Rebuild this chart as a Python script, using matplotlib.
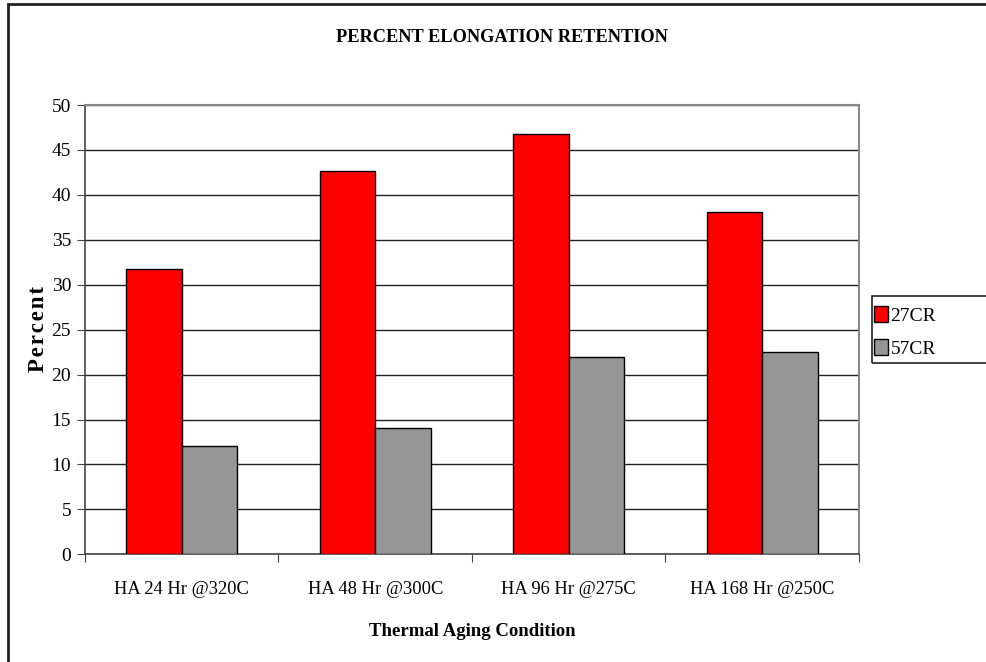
import matplotlib
matplotlib.use("Agg")
import matplotlib.pyplot as plt
from matplotlib.patches import Rectangle, Patch
import numpy as np

plt.rcParams['font.family'] = ['Liberation Serif', 'DejaVu Serif']

categories = ["HA 24 Hr @320C", "HA 48 Hr @300C", "HA 96 Hr @275C", "HA 168 Hr @250C"]
cr27 = [31.7, 42.7, 46.8, 38.1]
cr57 = [12.1, 14.1, 22.0, 22.5]
series_names = ["27CR", "57CR"]
yticks = [0, 5, 10, 15, 20, 25, 30, 35, 40, 45, 50]

W, H = 987, 662
fig = plt.figure(figsize=(W / 100, H / 100), dpi=100)

# outer chart border (continues past the right and bottom edges)
fig.patches.append(Rectangle((8.5 / W, -0.1), 1.2, (H - 4) / H + 0.1,
                             transform=fig.transFigure, fill=False,
                             edgecolor="#222222", linewidth=2))

left, right, top, bottom = 85, 859, 105, 554.3
ax = fig.add_axes([left / W, (H - bottom) / H, (right - left) / W, (bottom - top) / H])

x = np.arange(len(categories))
bw = 1 / 3.5
ax.bar(x - bw / 2, cr27, width=bw, color="#ff0000", edgecolor="black", linewidth=1, zorder=3)
ax.bar(x + bw / 2, cr57, width=bw, color="#969696", edgecolor="black", linewidth=1, zorder=3)

ax.set_xlim(-0.5, len(categories) - 0.5)
ax.set_ylim(0, 50)
ax.set_yticks(yticks)
ax.set_yticklabels([str(v) for v in yticks], fontsize=14)
ax.yaxis.grid(True, color="#222222", linewidth=1, zorder=0)
ax.set_axisbelow(True)

ax.set_xticks(np.arange(len(categories) + 1) - 0.5)
ax.set_xticklabels([])
ax.set_xticks(x, minor=True)
ax.set_xticklabels(categories, minor=True, fontsize=13.3)
ax.tick_params(axis="x", which="minor", length=0, pad=19)
ax.tick_params(axis="x", which="major", length=6, direction="out", color="#444444")
ax.tick_params(axis="y", length=6, direction="out", color="#444444", pad=4)

for s in ["top", "right"]:
    ax.spines[s].set_color("#888888")
    ax.spines[s].set_linewidth(1.5)
for s in ["left", "bottom"]:
    ax.spines[s].set_color("#444444")
    ax.spines[s].set_linewidth(1.2)

fig.text(502 / W, 1 - 37 / H, "PERCENT ELONGATION RETENTION", ha="center", va="center",
         fontsize=13.2, fontweight="bold")
fig.text(472 / W, 1 - 632 / H, "Thermal Aging Condition", ha="center", va="center",
         fontsize=13.5, fontweight="bold")
fig.text(38 / W, 1 - 329 / H, "\u200a".join("Percent"), ha="center", va="center", rotation=90,
         fontsize=16.5, fontweight="bold")

# legend box
fig.patches.append(Rectangle((872 / W, 1 - 363 / H), 0.2, 67 / H,
                             transform=fig.transFigure, fill=False,
                             edgecolor="#222222", linewidth=1.2))
handles = [Patch(facecolor="#ff0000", edgecolor="black"),
           Patch(facecolor="#969696", edgecolor="black")]
fig.legend(handles, series_names, loc="upper left", bbox_to_anchor=(872 / W, 1 - 304 / H),
           frameon=False, fontsize=14, handlelength=0.7, handleheight=0.9,
           handletextpad=0.15, labelspacing=0.75, borderaxespad=0, borderpad=0.1)

fig.savefig("out.png", dpi=100)
